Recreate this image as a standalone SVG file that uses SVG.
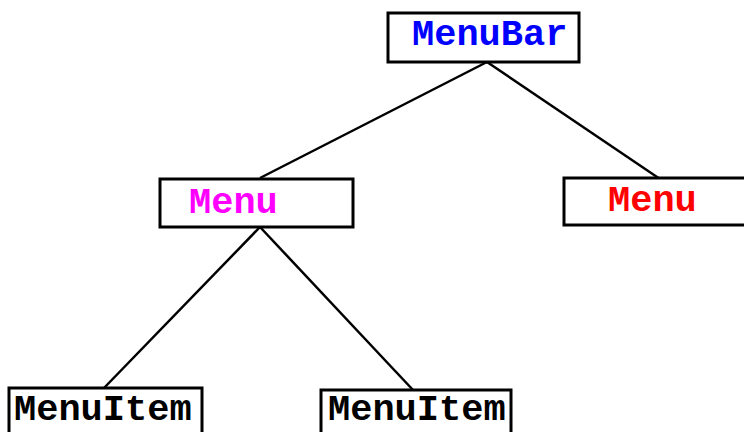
<svg xmlns="http://www.w3.org/2000/svg" width="744" height="432" viewBox="0 0 744 432">
<style>
.box{fill:#fff;stroke:#000;stroke-width:3}
.lbl{font-family:"Liberation Mono","Courier New",monospace;font-weight:bold;font-size:37px}
.ln{stroke:#000;stroke-width:2.5;fill:none}
</style>
<rect width="744" height="432" fill="#fff"/>
<g id="connectors">
<line class="ln" x1="487" y1="62" x2="260" y2="178"/>
<line class="ln" x1="487" y1="62" x2="660" y2="179"/>
<line class="ln" x1="260" y1="227" x2="104" y2="388"/>
<line class="ln" x1="260" y1="227" x2="413" y2="390"/>
</g>
<g id="menubar">
<rect class="box" x="388" y="13" width="191" height="49"/>
<text class="lbl" x="412" y="45" fill="#0000ff">MenuBar</text>
</g>
<g id="menu1">
<rect class="box" x="160" y="179" width="193" height="48"/>
<text class="lbl" x="189" y="213" fill="#ff00ff">Menu</text>
</g>
<g id="menu2">
<rect class="box" x="564" y="178" width="185" height="47"/>
<text class="lbl" x="608" y="211" fill="#ff0000">Menu</text>
</g>
<g id="menuitem1">
<rect class="box" x="9" y="388" width="193" height="50"/>
<text class="lbl" x="14" y="420" fill="#000">MenuItem</text>
</g>
<g id="menuitem2">
<rect class="box" x="321" y="390" width="190" height="50"/>
<text class="lbl" x="328" y="420" fill="#000">MenuItem</text>
</g>
</svg>
